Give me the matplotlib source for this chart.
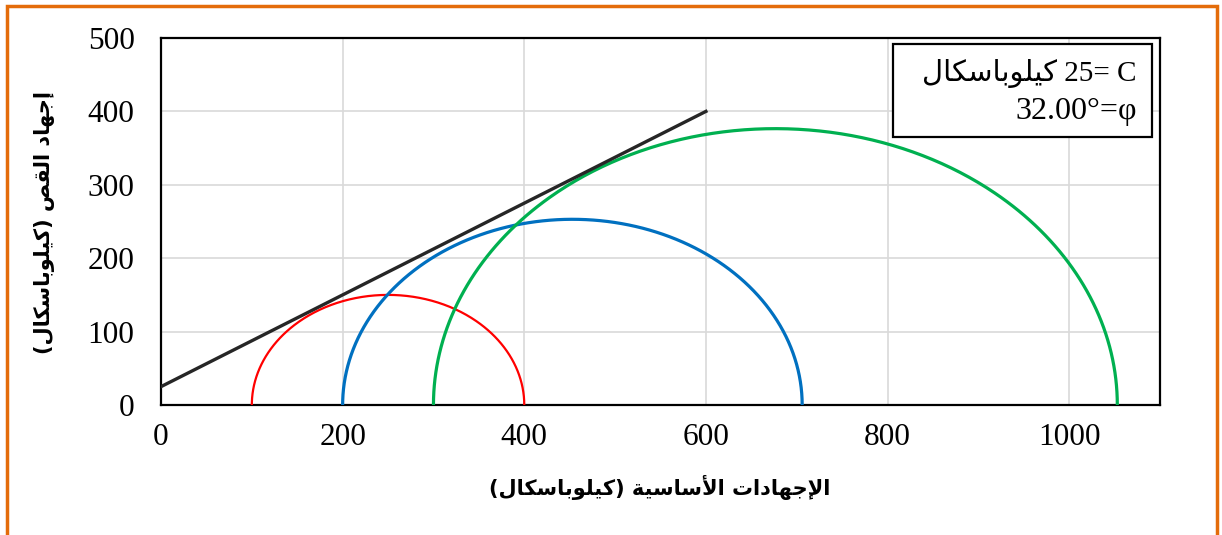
import matplotlib.pyplot as plt
from matplotlib.patches import Rectangle
import numpy as np

# Mohr circles: (sigma3, sigma1) in kPa
sigma3 = [100, 200, 300]
sigma1 = [400, 706, 1053]
circle_colors = ['#FF0000', '#0070C0', '#00B050']
circle_widths = [1.6, 2.3, 2.3]

# failure envelope
env_x = [0, 600]
env_y = [25, 400]

x_ticks = [0, 200, 400, 600, 800, 1000]
y_ticks = [0, 100, 200, 300, 400, 500]

x_label = 'الإجهادات الأساسية (كيلوباسكال)'
y_label = 'إجهاد القص (كيلوباسكال)'
unit_word = 'كيلوباسكال'

# --- tiny Arabic shaper (presentation forms + visual order) ---
FORMS = {
    'ا': (0xFE8D, 0xFE8E, None, None),
    'أ': (0xFE83, 0xFE84, None, None),
    'إ': (0xFE87, 0xFE88, None, None),
    'ب': (0xFE8F, 0xFE90, 0xFE91, 0xFE92),
    'ة': (0xFE93, 0xFE94, None, None),
    'ت': (0xFE95, 0xFE96, 0xFE97, 0xFE98),
    'ج': (0xFE9D, 0xFE9E, 0xFE9F, 0xFEA0),
    'د': (0xFEA9, 0xFEAA, None, None),
    'س': (0xFEB1, 0xFEB2, 0xFEB3, 0xFEB4),
    'ص': (0xFEB9, 0xFEBA, 0xFEBB, 0xFEBC),
    'ق': (0xFED5, 0xFED6, 0xFED7, 0xFED8),
    'ك': (0xFED9, 0xFEDA, 0xFEDB, 0xFEDC),
    'ل': (0xFEDD, 0xFEDE, 0xFEDF, 0xFEE0),
    'ه': (0xFEE9, 0xFEEA, 0xFEEB, 0xFEEC),
    'و': (0xFEED, 0xFEEE, None, None),
    'ي': (0xFEF1, 0xFEF2, 0xFEF3, 0xFEF4),
}
LAM_ALEF = {'ا': (0xFEFB, 0xFEFC), 'أ': (0xFEF7, 0xFEF8), 'إ': (0xFEF9, 0xFEFA)}


def dual(c):
    return c in FORMS and FORMS[c][2] is not None


def shape(text):
    out = []
    i = 0
    n = len(text)
    while i < n:
        c = text[i]
        prev = text[i - 1] if i > 0 else ''
        if c == 'ل' and i + 1 < n and text[i + 1] in LAM_ALEF:
            iso, fin = LAM_ALEF[text[i + 1]]
            out.append(chr(fin if dual(prev) else iso))
            i += 2
            continue
        if c in FORMS:
            nxt = text[i + 1] if i + 1 < n else ''
            p = dual(prev)
            q = dual(c) and nxt in FORMS
            f = FORMS[c]
            if p and q:
                code = f[3]
            elif p:
                code = f[1]
            elif q:
                code = f[2]
            else:
                code = f[0]
            out.append(chr(code))
        else:
            out.append(c)
        i += 1
    mirror = {'(': ')', ')': '('}
    return ''.join(mirror.get(ch, ch) for ch in reversed(out))


fig = plt.figure(figsize=(12.22, 5.35), dpi=100)
ax = fig.add_axes([161 / 1222, 1 - 405 / 535, 999 / 1222, 367 / 535])

theta = np.linspace(0, np.pi, 400)
for s3, s1, col, lw in zip(sigma3, sigma1, circle_colors, circle_widths):
    c = (s1 + s3) / 2
    r = (s1 - s3) / 2
    ax.plot(c + r * np.cos(theta), r * np.sin(theta), color=col, lw=lw,
            solid_capstyle='butt', zorder=3)

ax.plot(env_x, env_y, color='#262626', lw=2.4, zorder=4)

ax.set(xlim=(0, 1100), ylim=(0, 500), xticks=x_ticks, yticks=y_ticks)
ax.grid(True, color='#d9d9d9', lw=1.2)
ax.set_axisbelow(True)
for sp in ax.spines.values():
    sp.set_color('black')
    sp.set_linewidth(1.6)
ax.tick_params(length=0, labelsize=22.5)
ax.tick_params(axis='x', pad=13)
ax.tick_params(axis='y', pad=19)
for lab in ax.get_xticklabels() + ax.get_yticklabels():
    lab.set_family('Liberation Serif')

fig.text(660 / 1222, 1 - 487 / 535, shape(x_label), ha='center', va='center',
         fontsize=15, fontweight='bold', family=['DejaVu Sans'])
fig.text(45 / 1222, 1 - 222 / 535, shape(y_label), ha='center', va='center',
         rotation=90, fontsize=15, fontweight='bold', family=['DejaVu Sans'])

# parameter box
ax.add_patch(Rectangle(((893 - 161) / 999, 1 - (137 - 38) / 367),
                       (1152 - 893) / 999, (137 - 44) / 367,
                       transform=ax.transAxes, fill=True, facecolor='white',
                       edgecolor='black', lw=1.6, zorder=5))
ax.text((1137 - 161) / 999, 1 - (73 - 38) / 367, shape(unit_word) + ' 25= C',
        transform=ax.transAxes, ha='right', va='center', fontsize=21,
        family=['Liberation Serif', 'DejaVu Sans'], zorder=6)
ax.text((1137 - 161) / 999, 1 - (112 - 38) / 367, '32.00°=φ',
        transform=ax.transAxes, ha='right', va='center', fontsize=23,
        family=['Liberation Serif', 'DejaVu Sans'], zorder=6)

# orange frame around the figure
fig.patches.append(Rectangle((7.5 / 1222, -0.05), (1217 - 7.5) / 1222,
                             1.05 - 6 / 535, transform=fig.transFigure,
                             fill=False, edgecolor='#E46C0A', lw=2.5))

fig.savefig('out.png', dpi=100)
